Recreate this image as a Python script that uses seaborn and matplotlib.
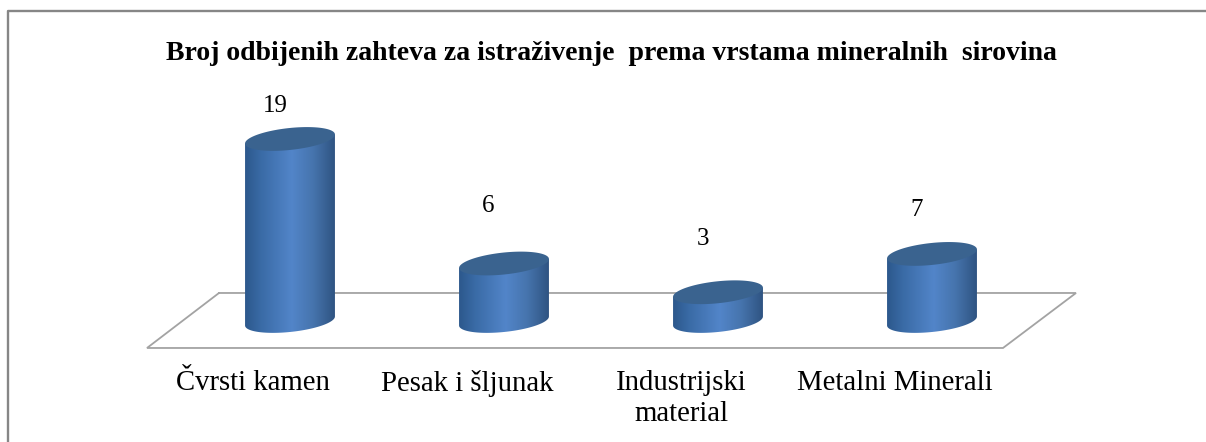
import numpy as np
import pandas as pd
import matplotlib.pyplot as plt
import matplotlib.transforms as mtrans
from matplotlib.colors import LinearSegmentedColormap
from matplotlib.lines import Line2D
from matplotlib.patches import Polygon
import seaborn as sns

# chart values
categories = ["Čvrsti kamen", "Pesak i šljunak", "Industrijski\nmaterial", "Metalni Minerali"]
values = [19, 6, 3, 7]
title = "Broj odbijenih zahteva za istraživenje  prema vrstama mineralnih  sirovina"

# layout, in pixels of the 1206x442 picture
W, H = 1206, 442
px_x = 214.0
px_y = 9.58
label_dx = [-15, -16, -15, -15]
label_gap = [33, 58, 53, 44]

sns.set_theme(style="white")
plt.rcParams["font.family"] = ["Liberation Serif", "DejaVu Serif"]

fig = plt.figure(figsize=(W / 100, H / 100), dpi=100)
ymin, ymax = -2.82, 20.5
ax = fig.add_axes([183 / W, (H - 348) / H, 856 / W, (ymax - ymin) * px_y / H])

df = pd.DataFrame({"cat": categories, "val": values})
sns.barplot(data=df, x="cat", y="val", order=categories, width=0.42, color="#4f81bd", ax=ax)
ax.set_xlim(-0.5, 3.5)
ax.set_ylim(ymin, ymax)
ax.set_xlabel("")
ax.set_ylabel("")
ax.set_yticks([])
sns.despine(ax=ax, left=True, bottom=True)

# floor
fx = [(p - 290) / px_x for p in (219, 147, 1003, 1076, 219)]
fy = [(321 - p) / px_y for p in (293, 348, 348, 293, 293)]
ax.plot(fx, fy, color="#a3a3a3", lw=1.3, clip_on=False, zorder=1, solid_joinstyle="miter")

# turn each bar into a cylinder
body_cmap = LinearSegmentedColormap.from_list(
    "body", [(0, "#2c588c"), (0.18, "#3a6ba6"), (0.52, "#5285c9"),
             (0.76, "#4674ad"), (1, "#2f5482")])
grad = np.linspace(0, 1, 256).reshape(1, -1)
tilt = 4.5 / px_y
minor = 11 / px_y
t = np.linspace(0, 2 * np.pi, 121)

for i, bar in enumerate(ax.patches):
    x0 = bar.get_x()
    w = bar.get_width()
    v = bar.get_height()
    cx = x0 + w / 2
    bar.set_visible(False)

    ex = cx + w / 2 * np.cos(t)
    edge = tilt * np.cos(t) + minor * np.sin(t)

    low = t[60:121]
    body_x = np.r_[cx + w / 2 * np.cos(low), cx + w / 2, x0]
    body_y = np.r_[tilt * np.cos(low) + minor * np.sin(low), v + tilt, v - tilt]
    clip = Polygon(np.c_[body_x, body_y], closed=True, transform=ax.transData)

    im = ax.imshow(grad, cmap=body_cmap, extent=(x0, x0 + w, -3, v + 3),
                   aspect="auto", zorder=2, interpolation="bilinear")
    im.set_clip_path(clip)

    ax.fill(ex, v + edge, color="#3a638f", lw=0, zorder=3)

    ax.annotate(str(values[i]), (cx, v), xytext=(label_dx[i] * 0.72, label_gap[i] * 0.72),
                textcoords="offset points", ha="center", va="center",
                fontsize=18, color="black")

ax.set_xlim(-0.5, 3.5)
ax.set_ylim(ymin, ymax)

# category labels sit left of the columns
shift = mtrans.ScaledTranslation(-37 / 100, -22 / 100, fig.dpi_scale_trans)
ax.tick_params(axis="x", length=0, pad=0)
for lab in ax.get_xticklabels():
    lab.set_transform(lab.get_transform() + shift)
    lab.set_fontsize(20.7)
    lab.set_color("black")
    lab.set_linespacing(1.27)

fig.text(611 / W, 1 - 53 / H, title, ha="center", va="center",
         fontsize=20, fontweight="bold", color="black")

# outer chart frame, cut off at the right and bottom
frame_x = [8 / W, 8 / W, 1]
frame_y = [0, 1 - 11 / H, 1 - 11 / H]
fig.add_artist(Line2D(frame_x, frame_y, color="#868686", lw=1.7, transform=fig.transFigure))

fig.savefig("out.png", dpi=100)
